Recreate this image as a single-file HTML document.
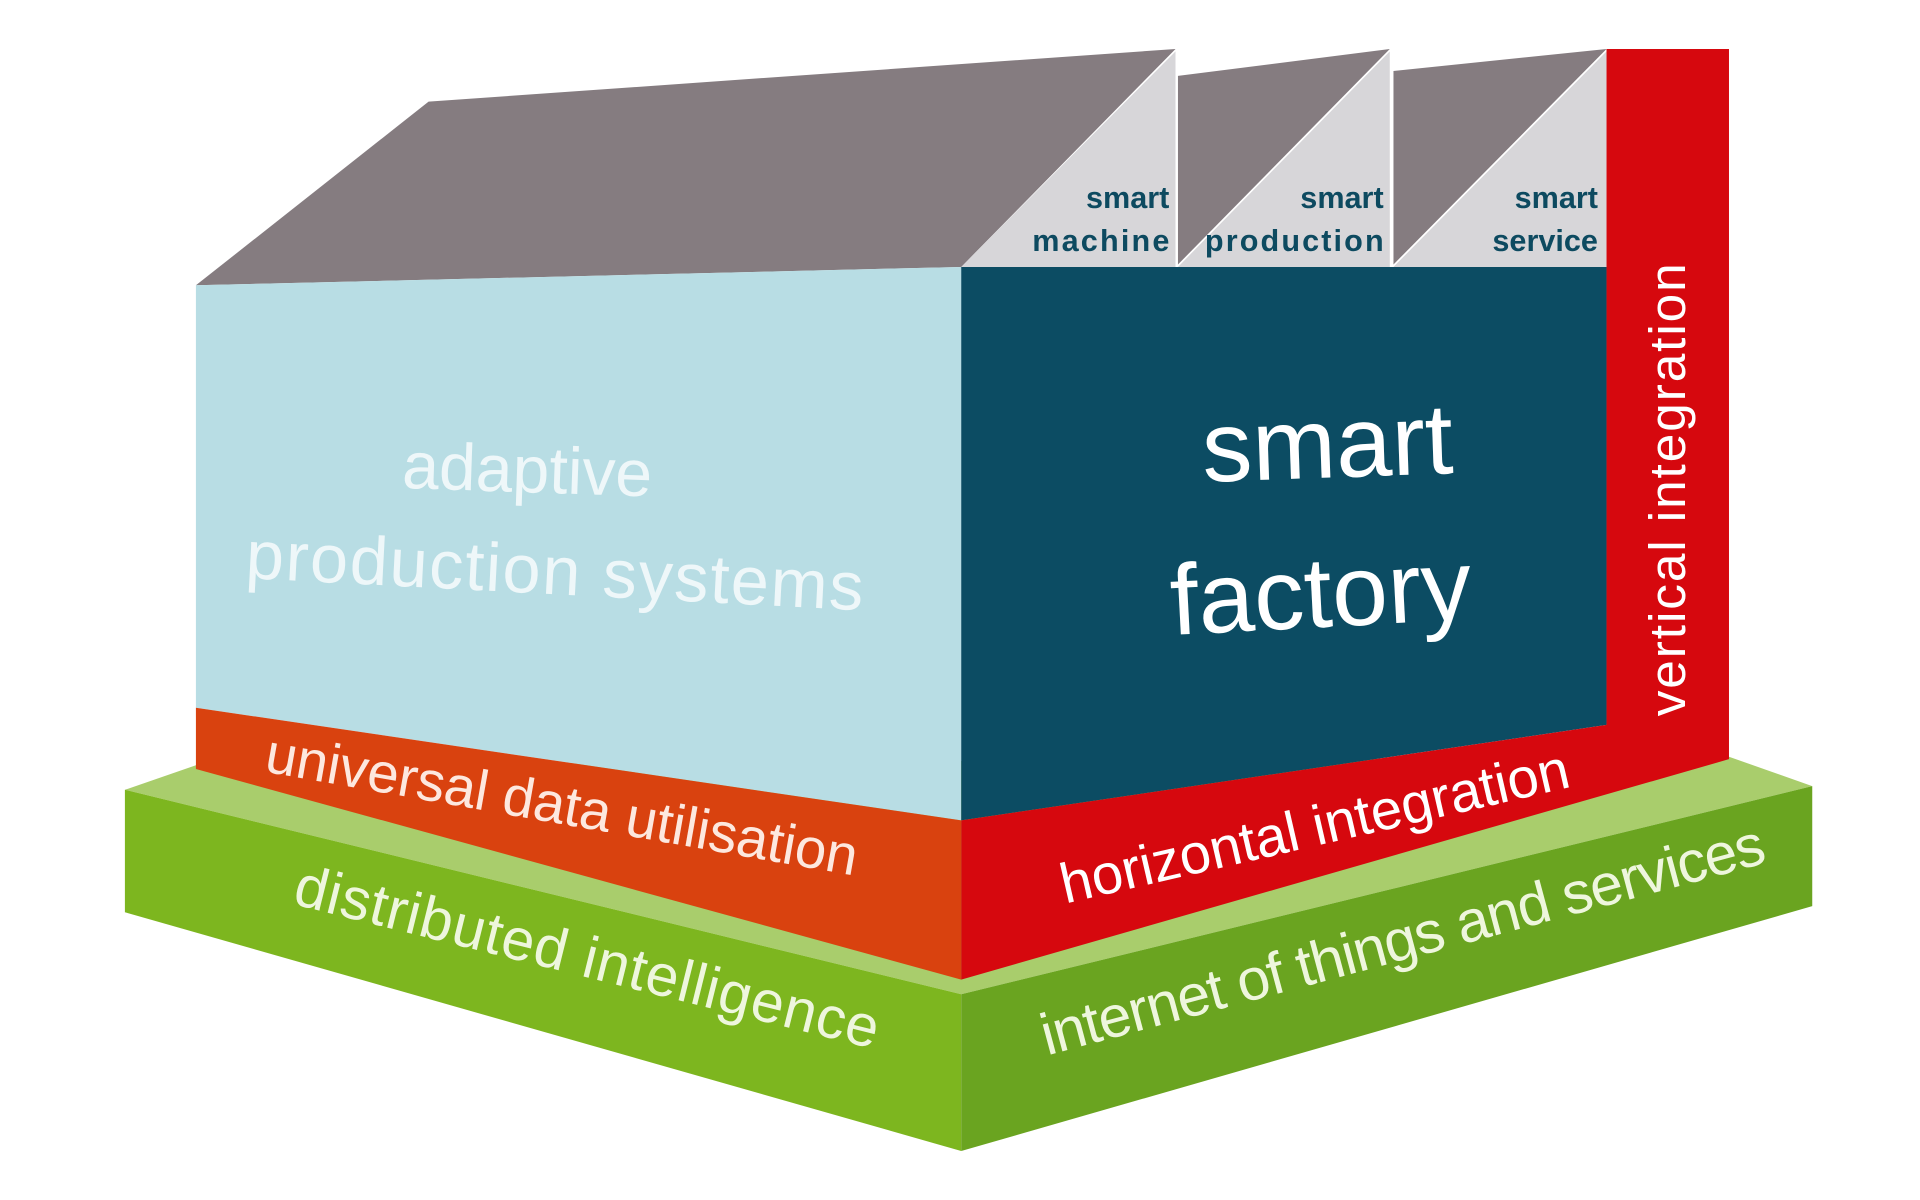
<!DOCTYPE html>
<html><head><style>html,body{margin:0;padding:0;background:#fff}svg{display:block}</style></head>
<body>
<svg width="1920" height="1200" viewBox="0 0 1568 980" preserveAspectRatio="none" xmlns="http://www.w3.org/2000/svg" font-family="Liberation Sans, DejaVu Sans, sans-serif">
<rect width="1568" height="980" fill="#fff"/>
<polygon points="102,645 160,625 1412,618 1480,642 785,812" fill="#a9cd6c"/>
<polygon points="102,645 785,812 785,940 102,745" fill="#7db61f"/>
<polygon points="785,812 1480,642 1480,740 785,940" fill="#6aa420"/>
<polygon points="160,233 350,83 960,40 785,218" fill="#857c80"/>
<polygon points="785,218 960,42 960,218" fill="#d7d6d9"/>
<polygon points="962,62 1135,40 962,216" fill="#857c80"/>
<polygon points="962,218 1135,42 1135,218" fill="#d7d6d9"/>
<polygon points="1138,58 1312,40 1138,216" fill="#857c80"/>
<polygon points="1138,218 1312,42 1312,218" fill="#d7d6d9"/>
<polygon points="160,233 785,218 785,670 160,578" fill="#b8dde4"/>
<polygon points="785,218 1312,218 1312,592 785,670" fill="#0c4c63"/>
<polygon points="160,578 785,670 785,800 160,628" fill="#d9420f"/>
<polygon points="785,670 1312,592 1312,40 1412,40 1412,620 785,800" fill="#d6080e"/>
<g fill="#0d4a60" font-weight="bold" font-size="25" text-anchor="end">
<text x="955" y="170">smart</text><text x="955" y="205" textLength="112">machine</text>
<text x="1130" y="170">smart</text><text x="1130" y="205" textLength="146">production</text>
<text x="1305" y="170">smart</text><text x="1305" y="205">service</text>
</g>
<g fill="#eef7f9" font-size="54">
<text x="430" y="402" text-anchor="middle" transform="rotate(2 430 402)">adaptive</text>
<text x="200" y="472" font-size="56" textLength="505" transform="rotate(3 200 472)">production systems</text>
</g>
<g fill="#fff" font-size="82">
<text x="1085" y="390" text-anchor="middle" transform="rotate(-2 1085 390)">smart</text>
<text x="1080" y="512" text-anchor="middle" transform="rotate(-3 1080 512)">factory</text>
</g>
<text x="0" y="0" fill="#fff" font-size="42" text-anchor="middle" transform="translate(1376 400) rotate(-90)" textLength="370">vertical integration</text>
<text x="0" y="0" fill="#fde8df" font-size="46" transform="translate(215 630) rotate(10)" textLength="490">universal data utilisation</text>
<text x="0" y="0" fill="#fff" font-size="46" transform="translate(870 738) rotate(-13)" textLength="425">horizontal integration</text>
<text x="0" y="0" fill="#eef6dd" font-size="48" transform="translate(238 738) rotate(14)" textLength="490">distributed intelligence</text>
<text x="0" y="0" fill="#eef6dd" font-size="48" transform="translate(855 862) rotate(-15)" textLength="610">internet of things and services</text>
</svg>
</body></html>
